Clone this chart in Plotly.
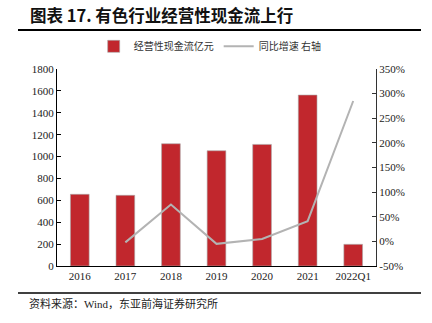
import plotly.graph_objects as go

# Data
years = ["2016", "2017", "2018", "2019", "2020", "2021", "2022Q1"]
cash_flow = [655, 646, 1117, 1053, 1111, 1562, 198]          # 亿元
yoy_years = ["2017", "2018", "2019", "2020", "2021", "2022Q1"]
yoy_growth = [-2, 75, -5, 5, 41, 285]                           # %

left_ticks = list(range(0, 1801, 200))
right_ticks = list(range(-50, 351, 50))
right_labels = [f"{v}%" for v in right_ticks]

serif = "Liberation Serif, Times New Roman, serif"
cjk = "Noto Sans CJK SC, sans-serif"

fig = go.Figure()
fig.add_trace(go.Bar(
    x=years, y=cash_flow, name="经营性现金流亿元",
    marker=dict(color="#C1272D", line=dict(color="#a8a8a8", width=0.6)),
))
fig.add_trace(go.Scatter(
    x=yoy_years, y=yoy_growth, name="同比增速 右轴", yaxis="y2",
    mode="lines", line=dict(color="#b3b3b3", width=2),
))

fig.update_layout(
    width=432, height=323,
    margin=dict(l=57, r=56, t=69, b=57),
    paper_bgcolor="white", plot_bgcolor="white",
    bargap=0.59,
    showlegend=True,
    legend=dict(
        orientation="h", x=0.115, y=1.115, xanchor="left", yanchor="middle",
        font=dict(family=cjk, size=10, color="#333"),
        itemwidth=30, tracegroupgap=0, bgcolor="rgba(0,0,0,0)",
    ),
    xaxis=dict(
        type="category", showline=True, linecolor="black", linewidth=1.2,
        ticks="", tickfont=dict(family=serif, size=11, color="#222"),
        showgrid=False, mirror=False,
    ),
    yaxis=dict(
        range=[0, 1800], tickvals=left_ticks, ticks="inside", ticklen=4,
        tickcolor="black", showline=True, linecolor="black", linewidth=1.2,
        showgrid=False, zeroline=False,
        tickfont=dict(family=serif, size=11, color="#222"),
    ),
    yaxis2=dict(
        overlaying="y", side="right",
        range=[-50, 350], tickvals=right_ticks, ticktext=right_labels,
        ticks="inside", ticklen=4, tickcolor="#333",
        showline=True, linecolor="#333", linewidth=1.2,
        showgrid=False, zeroline=False,
        tickfont=dict(family=serif, size=11, color="#222"),
    ),
    font=dict(family=cjk),
)

# Header: title and rule below it
fig.add_annotation(
    text="<b>图表 17. 有色行业经营性现金流上行</b>",
    xref="paper", yref="paper", x=-29 / 319, y=(266 - 15) / 197,
    xanchor="left", yanchor="middle", showarrow=False,
    font=dict(family=cjk, size=16.5, color="#111"),
)
fig.add_shape(type="line", xref="paper", yref="paper",
              x0=-39 / 319, x1=364 / 319, y0=(266 - 30) / 197, y1=(266 - 30) / 197,
              line=dict(color="black", width=2))

# Footer: rule and source note
fig.add_shape(type="line", xref="paper", yref="paper",
              x0=-39 / 319, x1=364 / 319, y0=(266 - 293) / 197, y1=(266 - 293) / 197,
              line=dict(color="black", width=1.5))
fig.add_annotation(
    text="资料来源：Wind，东亚前海证券研究所",
    xref="paper", yref="paper", x=-30 / 319, y=(266 - 303) / 197,
    xanchor="left", yanchor="middle", showarrow=False,
    font=dict(family="Liberation Serif, " + cjk, size=11, color="#222"),
)

fig.write_html("out.html")
